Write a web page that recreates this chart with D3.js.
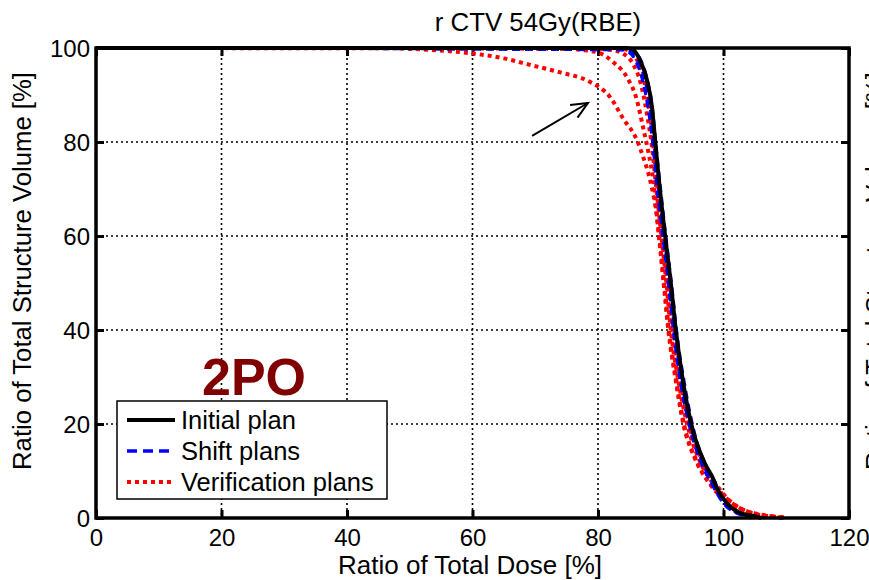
<!DOCTYPE html>
<html><head><meta charset="utf-8">
<script src="https://cdn.jsdelivr.net/npm/d3@7"></script>
<style>body{margin:0;background:#fff} svg{display:block} text{font-family:"Liberation Sans",Arial,Helvetica,sans-serif}</style>
</head><body><svg id="c" width="869" height="580"></svg>
<script>
// ---- data ----
const xTicks = [0, 20, 40, 60, 80, 100, 120];
const yTicks = [0, 20, 40, 60, 80, 100];
const titleText = "r CTV 54Gy(RBE)";
const xLabel = "Ratio of Total Dose [%]";
const yLabel = "Ratio of Total Structure Volume [%]";
const panelLabel = "2PO";
const legendLabels = ["Initial plan", "Shift plans", "Verification plans"];

// [dose %, volume %]
const initialPlan = [[0,100],[84.5,100],[85.5,99.7],[86.7,97.4],[87.8,93.2],[88.6,87.4],[89.1,80.4],[89.7,72],[90.7,60],[91.6,50],[92.4,40],[93.5,29.4],[95.1,18.7],[97.0,11.7],[98.3,8.5],[99.1,6],[100.5,3.2],[102.6,1.1],[105.3,0.3],[106,0]];

const shiftPlan1 = [[0,100],[84,99.7],[85.3,99.2],[86.4,97.3],[87.5,93],[88.3,87.5],[88.9,80],[89.5,72],[90.5,60],[91.4,50],[92.2,40],[93.2,30],[94.7,20],[96.6,12],[98,8.2],[99,5.5],[100.3,3],[102,1.2],[104,0.4],[105,0]];
const shiftPlan2 = [[0,100],[84.8,99.7],[85.8,99.3],[86.9,97.2],[87.9,93],[88.7,87],[89.2,80],[89.9,71],[90.9,59],[91.8,49],[92.6,39],[93.8,28.5],[95.4,18],[97.2,11.2],[98.5,7.8],[99.3,5.5],[100.7,2.9],[102.8,1],[105,0.2],[106,0]];
const shiftPlan3 = [[0,100],[83.5,99.6],[85,99],[86.1,97],[87.2,92.6],[88,87],[88.7,80],[89.3,71.5],[90.3,60],[91.2,50],[92,40],[93,30],[94.4,20.5],[96.3,12.2],[97.7,8.3],[98.8,5.6],[100,3.1],[101.8,1.2],[103.5,0.4],[104.5,0]];

const verifPlan1 = [[0,100],[46,100],[53,99.6],[59.6,98.9],[65,97.8],[69.2,96.4],[74,94.8],[78.7,92.8],[81.9,89.6],[84,85],[86.2,80.4],[87.2,76.8],[88.3,71.9],[89.3,65],[90,57],[90.7,48],[91.3,40],[92.4,30],[93.7,20],[95.6,12.5],[97.8,7.5],[100,4.6],[102,2.5],[104,1.3],[106,0.6],[108,0.3],[110,0.1]];
const verifPlan2 = [[0,100],[72,100],[78,99.5],[80.5,98.8],[82.4,97],[84.6,93.8],[86.2,88.9],[87.2,83],[88,78],[88.8,72],[89.7,60],[90.6,48],[91.2,40],[92.3,30],[93.6,20],[95.5,12.5],[97.5,7.8],[99.5,4.7],[101.5,2.6],[103.5,1.3],[106,0.5],[108,0.2],[110,0]];
const verifPlan3 = [[0,100],[78,100],[82,99.6],[84,98.8],[85.5,96.8],[86.8,92.5],[87.8,86],[88.6,79],[89.3,70],[90.1,60],[90.9,50],[91.6,40],[92.7,30],[94.2,20],[96.1,12.5],[98,8],[100,4.8],[102,2.6],[104,1.3],[106,0.7],[108,0.3],[109.5,0]];
const verifPlan4 = [[0,100],[84,99.8],[85.5,98.8],[86.8,95.5],[87.8,90],[88.6,82],[89.2,74],[90.1,62],[91,51],[91.8,41],[92.9,31],[94.5,20],[96.5,12.3],[98.5,7.8],[100.5,4.3],[102.5,2.2],[104.5,1],[107,0.4],[110,0]];

const arrowFrom = [69.5, 81.3];
const arrowTo = [78.4, 88.3];

// ---- layout ----
const svg = d3.select("#c");
const L = 96, R = 849, T = 48, B = 518;
const x = d3.scaleLinear().domain([0, 120]).range([L, R]);
const y = d3.scaleLinear().domain([0, 100]).range([B, T]);

svg.append("rect").attr("width", 869).attr("height", 580).attr("fill", "#fff");

// grid
const grid = svg.append("g").attr("stroke", "#000").attr("stroke-width", 1.6).attr("stroke-dasharray", "2,3");
xTicks.slice(1, -1).forEach(t => grid.append("line").attr("x1", x(t)).attr("x2", x(t)).attr("y1", T).attr("y2", B));
yTicks.slice(1, -1).forEach(t => grid.append("line").attr("x1", L).attr("x2", R).attr("y1", y(t)).attr("y2", y(t)));

// axes with inward ticks
const fs = 24;
const gx = svg.append("g").attr("transform", `translate(0,${B})`)
  .call(d3.axisBottom(x).tickValues(xTicks).tickSize(-8).tickPadding(11).tickFormat(d3.format("d")));
const gxt = svg.append("g").attr("transform", `translate(0,${T})`)
  .call(d3.axisTop(x).tickValues(xTicks).tickSize(-8).tickFormat(""));
const gy = svg.append("g").attr("transform", `translate(${L},0)`)
  .call(d3.axisLeft(y).tickValues(yTicks).tickSize(-8).tickPadding(6).tickFormat(d3.format("d")));
const gyr = svg.append("g").attr("transform", `translate(${R},0)`)
  .call(d3.axisRight(y).tickValues(yTicks).tickSize(-8).tickFormat(""));
[gx, gxt, gy, gyr].forEach(g => {
  g.select(".domain").remove();
  g.selectAll(".tick line").attr("stroke", "#000").attr("stroke-width", 3);
  g.selectAll("text").attr("font-size", fs).attr("fill", "#000").attr("font-family", '"Liberation Sans",Arial,sans-serif');
});
gy.selectAll(".tick text").attr("dy", "0.36em");

// curves
const line = d3.line().x(d => x(d[0])).y(d => y(d[1])).curve(d3.curveMonotoneX);
const curves = svg.append("g").attr("fill", "none");
[verifPlan1, verifPlan2, verifPlan3, verifPlan4].forEach(s =>
  curves.append("path").attr("d", line(s)).attr("stroke", "#ff0000").attr("stroke-width", 4).attr("stroke-dasharray", "4,4"));
[shiftPlan1, shiftPlan2, shiftPlan3].forEach(s =>
  curves.append("path").attr("d", line(s)).attr("stroke", "#0000ff").attr("stroke-width", 3).attr("stroke-dasharray", "8,5"));
curves.append("path").attr("d", line(initialPlan)).attr("stroke", "#000").attr("stroke-width", 4);

// frame
svg.append("rect").attr("x", L).attr("y", T).attr("width", R - L).attr("height", B - T)
  .attr("fill", "none").attr("stroke", "#000").attr("stroke-width", 3.5);

// arrow annotation
const ax1 = x(arrowFrom[0]), ay1 = y(arrowFrom[1]), ax2 = x(arrowTo[0]), ay2 = y(arrowTo[1]);
const ang = Math.atan2(ay2 - ay1, ax2 - ax1);
const ah = 18, aw = 0.42;
const arr = svg.append("g").attr("stroke", "#000").attr("stroke-width", 2).attr("fill", "none");
arr.append("line").attr("x1", ax1).attr("y1", ay1).attr("x2", ax2).attr("y2", ay2);
arr.append("path").attr("d", `M${ax2 - ah * Math.cos(ang - aw)},${ay2 - ah * Math.sin(ang - aw)}L${ax2},${ay2}L${ax2 - ah * Math.cos(ang + aw)},${ay2 - ah * Math.sin(ang + aw)}`);

// title & labels
svg.append("text").attr("x", 538).attr("y", 31).attr("text-anchor", "middle").attr("font-size", 25.8).text(titleText);
svg.append("text").attr("x", 470).attr("y", 574).attr("text-anchor", "middle").attr("font-size", 26).text(xLabel);
svg.append("text").attr("transform", "translate(31,271) rotate(-90)").attr("text-anchor", "middle").attr("font-size", 25.7).text(yLabel);
svg.append("text").attr("transform", "translate(884,271) rotate(-90)").attr("text-anchor", "middle").attr("font-size", 25.7).text(yLabel);

// panel label
svg.append("text").attr("x", 254).attr("y", 395).attr("text-anchor", "middle").attr("font-size", 52)
  .attr("font-weight", "bold").attr("fill", "#800000").text(panelLabel);

// legend
const lg = svg.append("g");
lg.append("rect").attr("x", 117).attr("y", 401).attr("width", 270).attr("height", 98)
  .attr("fill", "#fff").attr("stroke", "#000").attr("stroke-width", 1.5);
const legStyles = [
  {stroke: "#000", w: 4, dash: null},
  {stroke: "#0000ff", w: 3.5, dash: "10,6"},
  {stroke: "#ff0000", w: 4, dash: "4,4"}
];
legendLabels.forEach((lab, i) => {
  const yy = 420 + i * 31;
  const st = legStyles[i];
  lg.append("line").attr("x1", 127).attr("x2", 175).attr("y1", yy).attr("y2", yy)
    .attr("stroke", st.stroke).attr("stroke-width", st.w).attr("stroke-dasharray", st.dash);
  lg.append("text").attr("x", 181).attr("y", yy + 9).attr("font-size", 25.5).text(lab);
});
</script>
</body></html>
